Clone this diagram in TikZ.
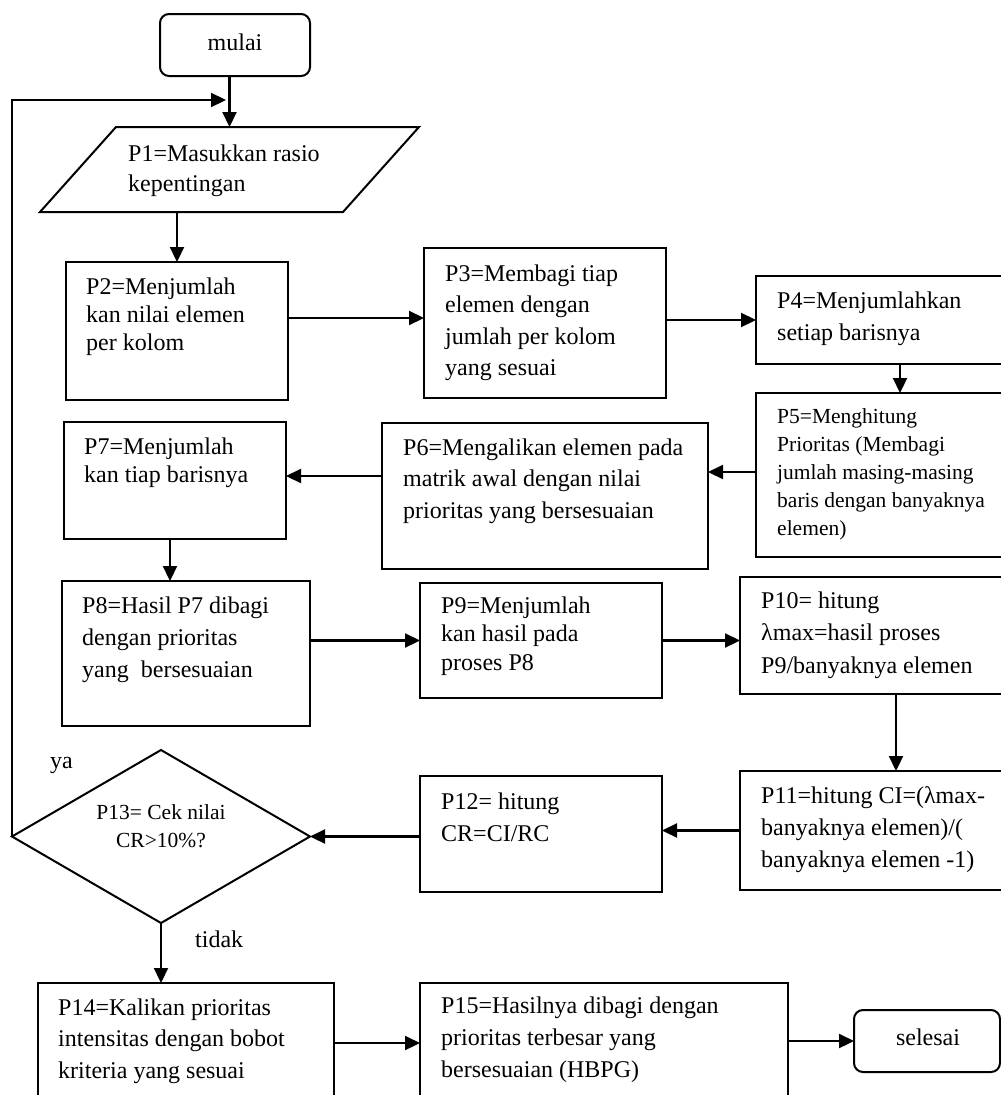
\documentclass[tikz,border=0pt]{standalone}
\usepackage{fontspec}
\setmainfont{Liberation Serif}
\usetikzlibrary{arrows.meta,calc}
\newcommand\txtstrut{\rule{0pt}{20pt}}
\begin{document}
\begin{tikzpicture}[x=1pt,y=-1pt,
  box/.style={draw, line width=2pt, rectangle, inner sep=0pt, outer sep=0pt, anchor=north west},
  term/.style={box, rounded corners=9pt},
  frame/.style={rectangle, inner sep=0pt, outer sep=0pt, anchor=north west},
  edge/.style={line width=2pt, line join=miter},
  arr/.style={line width=2.2pt, -{Triangle[length=15pt,width=14pt]}},
  lbl/.style={anchor=north west, inner sep=0pt, align=left},
]
% canvas
\path[use as bounding box, fill=white] (0,0) rectangle (1001,1095);
\clip (0,0) rectangle (1001,1095);

% ---- shapes ----
\node[term, minimum width=150pt, minimum height=62pt] (mulai) at (160,14) {};
\node[frame, minimum width=379pt, minimum height=85pt] (p1) at (40,127) {};
\draw[edge] ($(p1.north west)+(76,0)$) -- (p1.north east)
  -- ($(p1.south east)+(-76,0)$) -- (p1.south west) -- cycle;
\node[box, minimum width=222pt, minimum height=138pt] (p2) at (66,262) {};
\node[box, minimum width=242pt, minimum height=150pt] (p3) at (424,248) {};
\node[box, minimum width=254pt, minimum height=88pt]  (p4) at (756,276) {};
\node[box, minimum width=254pt, minimum height=164pt] (p5) at (756,393) {};
\node[box, minimum width=326pt, minimum height=146pt] (p6) at (382,423) {};
\node[box, minimum width=222pt, minimum height=117pt] (p7) at (64,422) {};
\node[box, minimum width=248pt, minimum height=145pt] (p8) at (62,581) {};
\node[box, minimum width=242pt, minimum height=115pt] (p9) at (420,583) {};
\node[box, minimum width=270pt, minimum height=117pt] (p10) at (740,577) {};
\node[box, minimum width=270pt, minimum height=119pt] (p11) at (740,771) {};
\node[box, minimum width=242pt, minimum height=116pt] (p12) at (420,776) {};
\node[frame, minimum width=298pt, minimum height=173pt] (p13) at (12,750) {};
\draw[edge] (p13.west) -- (p13.north) -- (p13.east) -- (p13.south) -- cycle;
\node[box, minimum width=296pt, minimum height=120pt] (p14) at (38,983) {};
\node[box, minimum width=368pt, minimum height=120pt] (p15) at (420,983) {};
\node[term, minimum width=146pt, minimum height=62pt] (selesai) at (854,1010) {};

% ---- texts ----
\node[anchor=base, inner sep=0pt, font=\fontsize{24}{30}\selectfont] (tm) at (235,50) {mulai};
\node[lbl, font=\fontsize{24}{30}\selectfont] (t1) at (128,141)
  {\txtstrut P1=Masukkan rasio\\kepentingan};
\node[lbl, font=\fontsize{24}{28}\selectfont] (t2) at (86,274)
  {\txtstrut P2=Menjumlah\\kan nilai elemen\\per kolom};
\node[lbl, font=\fontsize{24}{31.5}\selectfont] (t3) at (445,261)
  {\txtstrut P3=Membagi tiap\\elemen dengan\\jumlah per kolom\\yang sesuai};
\node[lbl, font=\fontsize{24}{32}\selectfont] (t4) at (777,288)
  {\txtstrut P4=Menjumlahkan\\setiap barisnya};
\node[lbl, font=\fontsize{21.5}{28}\selectfont] (t5) at (777,403)
  {\txtstrut P5=Menghitung\\Prioritas (Membagi\\jumlah masing-masing\\baris dengan banyaknya\\elemen)};
\node[lbl, font=\fontsize{24}{31.5}\selectfont] (t6) at (403,435)
  {\txtstrut P6=Mengalikan elemen pada\\matrik awal dengan nilai\\prioritas yang bersesuaian};
\node[lbl, font=\fontsize{24}{28}\selectfont] (t7) at (84,434)
  {\txtstrut P7=Menjumlah\\kan tiap barisnya};
\node[lbl, font=\fontsize{24}{32}\selectfont] (t8) at (82,593)
  {\txtstrut P8=Hasil P7 dibagi\\dengan prioritas\\yang~ bersesuaian};
\node[lbl, font=\fontsize{24}{28.5}\selectfont] (t9) at (441,593)
  {\txtstrut P9=Menjumlah\\kan hasil pada\\proses P8};
\node[lbl, font=\fontsize{24}{32.5}\selectfont] (t10) at (761,588)
  {\txtstrut P10= hitung\\λmax=hasil proses\\P9/banyaknya elemen};
\node[lbl, font=\fontsize{24}{32}\selectfont] (t11) at (761,783)
  {\txtstrut P11=hitung CI=(λmax-\\banyaknya elemen)/(\\banyaknya elemen -1)};
\node[lbl, font=\fontsize{24}{32}\selectfont] (t12) at (441,789)
  {\txtstrut P12= hitung\\CR=CI/RC};
\node[anchor=north, inner sep=0pt, align=center, font=\fontsize{21.5}{28}\selectfont] (t13) at (161,799)
  {\txtstrut P13= Cek nilai\\CR>10\%?};
\node[lbl, font=\fontsize{24}{31.5}\selectfont] (t14) at (58,995)
  {\txtstrut P14=Kalikan prioritas\\intensitas dengan bobot\\kriteria yang sesuai};
\node[lbl, font=\fontsize{24}{32}\selectfont] (t15) at (441,993)
  {\txtstrut P15=Hasilnya dibagi dengan\\prioritas terbesar yang\\bersesuaian (HBPG)};
\node[anchor=base, inner sep=0pt, font=\fontsize{24}{30}\selectfont] (ts) at (928,1045) {selesai};
\node[anchor=base west, inner sep=0pt, font=\fontsize{24}{30}\selectfont] (ya) at (50,768) {ya};
\node[anchor=base west, inner sep=0pt, font=\fontsize{24}{30}\selectfont] (tidak) at (195,947) {tidak};

% ---- connectors ----
\coordinate (loopin) at (226,100);
\coordinate (a23) at ($(p3.west)+(0,-5)$);
\coordinate (a45) at ($(p4.south)+(17,0)$);
\coordinate (a56) at ($(p5.west)+(0,-3)$);
\coordinate (a67) at ($(p7.east)+(0,-4.5)$);
\coordinate (a78) at ($(p7.south)+(-5,0)$);
\coordinate (a1011) at ($(p10.south)+(21,0)$);

\draw[arr] (mulai.south -| p1.north) -- (p1.north);
\draw[arr] (p13.west) |- (loopin);
\draw[arr] (p1.south -| p2.north) -- (p2.north);
\draw[arr] (p2.east |- a23) -- (a23);
\draw[arr] (p3.east |- p4.west) -- (p4.west);
\draw[arr] (a45) -- (a45 |- p5.north);
\draw[arr] (a56) -- (p6.east |- a56);
\draw[arr] (p6.west |- a67) -- (a67);
\draw[arr] (a78) -- (a78 |- p8.north);
\draw[arr] (p8.east |- p9.west) -- (p9.west);
\draw[arr] (p9.east) -- (p10.west |- p9.east);
\draw[arr] (a1011) -- (a1011 |- p11.north);
\draw[arr] (p11.west) -- (p12.east |- p11.west);
\draw[arr] (p12.west |- p13.east) -- (p13.east);
\draw[arr] (p13.south) -- (p13.south |- p14.north);
\draw[arr] (p14.east) -- (p15.west);
\draw[arr] (p15.east |- selesai.west) -- (selesai.west);
\end{tikzpicture}
\end{document}
